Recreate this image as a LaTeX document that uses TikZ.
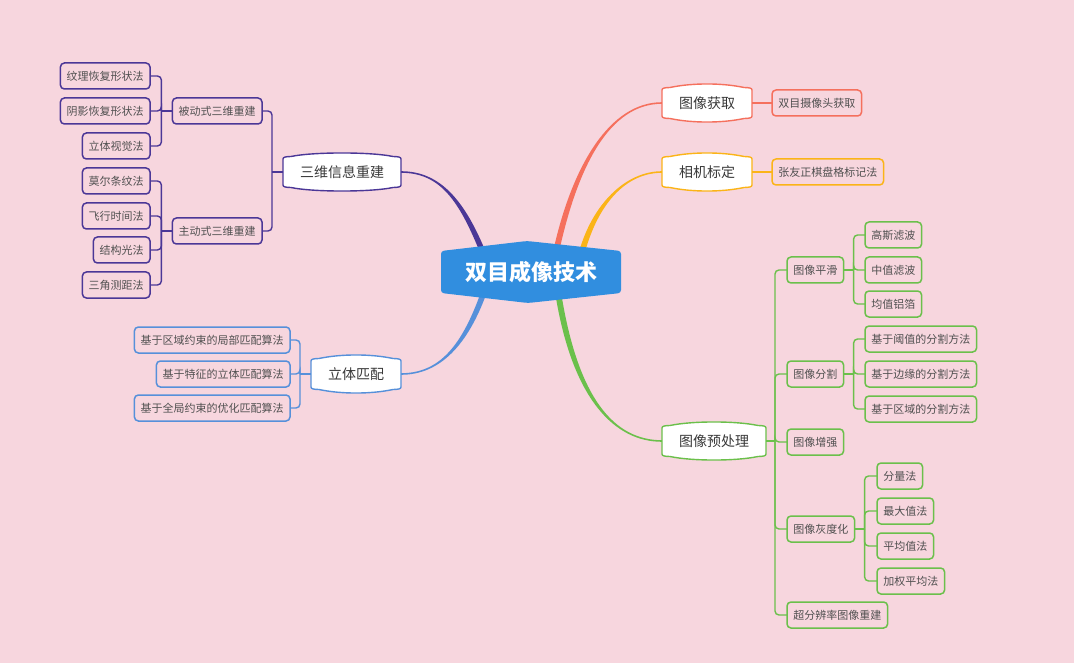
\documentclass[tikz,border=0pt]{standalone}
\usepackage{fontspec}
\setmainfont{Noto Sans CJK SC}
\usetikzlibrary{calc}
\definecolor{bg}{HTML}{F7D6DE}
\definecolor{ctrblue}{HTML}{318EDF}
\definecolor{cpur}{HTML}{4B3797}
\definecolor{cblue}{HTML}{5690DA}
\definecolor{csal}{HTML}{F5705D}
\definecolor{corg}{HTML}{FBB418}
\definecolor{cgrn}{HTML}{6BC04B}
\definecolor{txt}{HTML}{505050}
\definecolor{mtxt}{HTML}{383838}
\pgfdeclarelayer{bglayer}
\pgfdeclarelayer{conn}
\pgfdeclarelayer{shapes}
\pgfsetlayers{bglayer,conn,shapes,main}
\newcommand{\mainout}[2]{\draw[#2,line width=1.4pt,fill=white,line join=round]
 ($(#1.north west)+(0,6)$) -- ($(#1.south west)+(0,-6)$)
 .. controls ($(#1.south west)+(0,-4)$) and ($(#1.south west)+(3,-3.6)$) .. ($(#1.south west)+(8,-3.5)$)
 .. controls ($(#1.south west)+(30,1.2)$) and ($(#1.south east)+(-30,1.2)$) .. ($(#1.south east)+(-8,-3.5)$)
 .. controls ($(#1.south east)+(-3,-3.6)$) and ($(#1.south east)+(0,-4)$) .. ($(#1.south east)+(0,-6)$)
 -- ($(#1.north east)+(0,6)$)
 .. controls ($(#1.north east)+(0,4)$) and ($(#1.north east)+(-3,3.6)$) .. ($(#1.north east)+(-8,3.5)$)
 .. controls ($(#1.north east)+(-30,-1.2)$) and ($(#1.north west)+(30,-1.2)$) .. ($(#1.north west)+(8,3.5)$)
 .. controls ($(#1.north west)+(3,3.6)$) and ($(#1.north west)+(0,4)$) .. ($(#1.north west)+(0,6)$) -- cycle;}
\begin{document}
\begin{tikzpicture}[x=1pt,y=-1pt,
 sub/.style={draw=#1, rounded corners=4pt, line width=1.5pt, minimum height=26pt, inner xsep=6.3pt, inner ysep=0pt, outer sep=0pt, font=\fontsize{11}{13}\selectfont, text=txt},
 mainlbl/.style={minimum height=38pt, inner xsep=17pt, inner ysep=0pt, outer sep=0pt, font=\fontsize{14}{16}\selectfont, text=mtxt},
 ctrlbl/.style={minimum width=180pt, minimum height=62pt, inner sep=0pt, outer sep=0pt, font=\fontsize{22}{24}\selectfont\bfseries, text=white},
 ln/.style={draw=#1, line width=1.4pt, rounded corners=4pt},
]
\begin{pgfonlayer}{bglayer}
\fill[bg] (0,0) rectangle (1074,663);
\end{pgfonlayer}
\useasboundingbox (0,0) rectangle (1074,663);

% center
\node[ctrlbl] (ctr) at (531,272) {双目成像技术};
\begin{pgfonlayer}{shapes}
\fill[ctrblue, rounded corners=3pt] ($(ctr.north west)+(0,10)$) -- ($(ctr.south west)+(0,-10)$) -- ($(ctr.south)+(-3,0)$) -- ($(ctr.south east)+(0,-10)$) -- ($(ctr.north east)+(0,10)$) -- ($(ctr.north)+(-4,0)$) -- cycle;
\end{pgfonlayer}

% main branches
\node[mainlbl] (zw) at (342,172) {三维信息重建};
\node[mainlbl] (lt) at (356,374) {立体匹配};
\node[mainlbl] (hq) at (707,103) {图像获取};
\node[mainlbl] (bd) at (707,172) {相机标定};
\node[mainlbl] (yc) at (714,441) {图像预处理};
\begin{pgfonlayer}{shapes}
\mainout{zw}{cpur}
\mainout{lt}{cblue}
\mainout{hq}{csal}
\mainout{bd}{corg}
\mainout{yc}{cgrn}
\end{pgfonlayer}

% tapered connectors
\coordinate (sp) at (484,255); \coordinate (cp1) at (462,200); \coordinate (cp2) at (440,172);
\coordinate (sb) at (484,292); \coordinate (cb1) at (465,345); \coordinate (cb2) at (440,374);
\coordinate (ss) at (556,252); \coordinate (cs1) at (575,165); \coordinate (cs2) at (610,103);
\coordinate (so) at (582,252); \coordinate (co1) at (595,205); \coordinate (co2) at (625,172);
\coordinate (sg) at (558,292); \coordinate (cg1) at (575,400); \coordinate (cg2) at (615,441);
\begin{pgfonlayer}{conn}
\fill[cpur] ($(sp)+(-3,0)$) .. controls ($(cp1)+(-3,0)$) and ($(cp2)+(0,0.8)$) .. ($(zw.east)+(0,0.8)$) -- ($(zw.east)+(0,-0.8)$) .. controls ($(cp2)+(0,-0.8)$) and ($(cp1)+(3,0)$) .. ($(sp)+(3,0)$) -- cycle;
\fill[cblue] ($(sb)+(-3,0)$) .. controls ($(cb1)+(-3,0)$) and ($(cb2)+(0,-0.8)$) .. ($(lt.east)+(0,-0.8)$) -- ($(lt.east)+(0,0.8)$) .. controls ($(cb2)+(0,0.8)$) and ($(cb1)+(3,0)$) .. ($(sb)+(3,0)$) -- cycle;
\fill[csal] ($(ss)+(-3,0)$) .. controls ($(cs1)+(-3,0)$) and ($(cs2)+(0,-0.8)$) .. ($(hq.west)+(0,-0.8)$) -- ($(hq.west)+(0,0.8)$) .. controls ($(cs2)+(0,0.8)$) and ($(cs1)+(3,0)$) .. ($(ss)+(3,0)$) -- cycle;
\fill[corg] ($(so)+(-3,0)$) .. controls ($(co1)+(-3,0)$) and ($(co2)+(0,-0.8)$) .. ($(bd.west)+(0,-0.8)$) -- ($(bd.west)+(0,0.8)$) .. controls ($(co2)+(0,0.8)$) and ($(co1)+(3,0)$) .. ($(so)+(3,0)$) -- cycle;
\fill[cgrn] ($(sg)+(-3,0)$) .. controls ($(cg1)+(-3,0)$) and ($(cg2)+(0,0.8)$) .. ($(yc.west)+(0,0.8)$) -- ($(yc.west)+(0,-0.8)$) .. controls ($(cg2)+(0,-0.8)$) and ($(cg1)+(3,0)$) .. ($(sg)+(3,0)$) -- cycle;
\end{pgfonlayer}

% purple sub-tree
\node[sub=cpur, anchor=east] (bd1) at (262,111) {被动式三维重建};
\node[sub=cpur, anchor=east] (zd1) at (262,231) {主动式三维重建};
\node[sub=cpur, anchor=east] (a1) at (150,76) {纹理恢复形状法};
\node[sub=cpur, anchor=east] (a2) at (150,111) {阴影恢复形状法};
\node[sub=cpur, anchor=east] (a3) at (150,146) {立体视觉法};
\node[sub=cpur, anchor=east] (a4) at (150,181) {莫尔条纹法};
\node[sub=cpur, anchor=east] (a5) at (150,216) {飞行时间法};
\node[sub=cpur, anchor=east] (a6) at (150,250) {结构光法};
\node[sub=cpur, anchor=east] (a7) at (150,285) {三角测距法};
\draw[ln=cpur] (zw.west) -- ++(-11,0) coordinate (tz);
\foreach \c in {bd1,zd1} \draw[ln=cpur] (tz) |- (\c.east);
\draw[ln=cpur] (bd1.west) -- ++(-11,0) coordinate (tb);
\foreach \c in {a1,a2,a3} \draw[ln=cpur] (tb) |- (\c.east);
\draw[ln=cpur] (zd1.west) -- ++(-11,0) coordinate (td);
\foreach \c in {a4,a5,a6,a7} \draw[ln=cpur] (td) |- (\c.east);

% blue sub-tree
\node[sub=cblue, anchor=east] (b1) at (290,340) {基于区域约束的局部匹配算法};
\node[sub=cblue, anchor=east] (b2) at (290,374) {基于特征的立体匹配算法};
\node[sub=cblue, anchor=east] (b3) at (290,408) {基于全局约束的优化匹配算法};
\draw[ln=cblue] (lt.west) -- ++(-11,0) coordinate (tl);
\foreach \c in {b1,b2,b3} \draw[ln=cblue] (tl) |- (\c.east);

% right top
\node[sub=csal, anchor=west] (s1) at (772,103) {双目摄像头获取};
\draw[ln=csal] (hq.east) -- (s1.west);
\node[sub=corg, anchor=west] (o1) at (772,172) {张友正棋盘格标记法};
\draw[ln=corg] (bd.east) -- (o1.west);

% green sub-tree
\node[sub=cgrn, anchor=west] (g1) at (787,270) {图像平滑};
\node[sub=cgrn, anchor=west] (g2) at (787,374) {图像分割};
\node[sub=cgrn, anchor=west] (g3) at (787,442) {图像增强};
\node[sub=cgrn, anchor=west] (g4) at (787,529) {图像灰度化};
\node[sub=cgrn, anchor=west] (g5) at (787,615) {超分辨率图像重建};
\draw[ln=cgrn] (yc.east) -- ++(9,0) coordinate (ty);
\foreach \c in {g1,g2,g3,g4,g5} \draw[ln=cgrn] (ty) |- (\c.west);

\node[sub=cgrn, anchor=west] (h1) at (865,235) {高斯滤波};
\node[sub=cgrn, anchor=west] (h2) at (865,270) {中值滤波};
\node[sub=cgrn, anchor=west] (h3) at (865,304) {均值铝箔};
\draw[ln=cgrn] (g1.east) -- ++(10,0) coordinate (th);
\foreach \c in {h1,h2,h3} \draw[ln=cgrn] (th) |- (\c.west);

\node[sub=cgrn, anchor=west] (p1) at (865,339) {基于阈值的分割方法};
\node[sub=cgrn, anchor=west] (p2) at (865,374) {基于边缘的分割方法};
\node[sub=cgrn, anchor=west] (p3) at (865,409) {基于区域的分割方法};
\draw[ln=cgrn] (g2.east) -- ++(10,0) coordinate (tp);
\foreach \c in {p1,p2,p3} \draw[ln=cgrn] (tp) |- (\c.west);

\node[sub=cgrn, anchor=west] (q1) at (877,476) {分量法};
\node[sub=cgrn, anchor=west] (q2) at (877,511) {最大值法};
\node[sub=cgrn, anchor=west] (q3) at (877,546) {平均值法};
\node[sub=cgrn, anchor=west] (q4) at (877,581) {加权平均法};
\draw[ln=cgrn] (g4.east) -- ++(10,0) coordinate (tq);
\foreach \c in {q1,q2,q3,q4} \draw[ln=cgrn] (tq) |- (\c.west);
\end{tikzpicture}
\end{document}
